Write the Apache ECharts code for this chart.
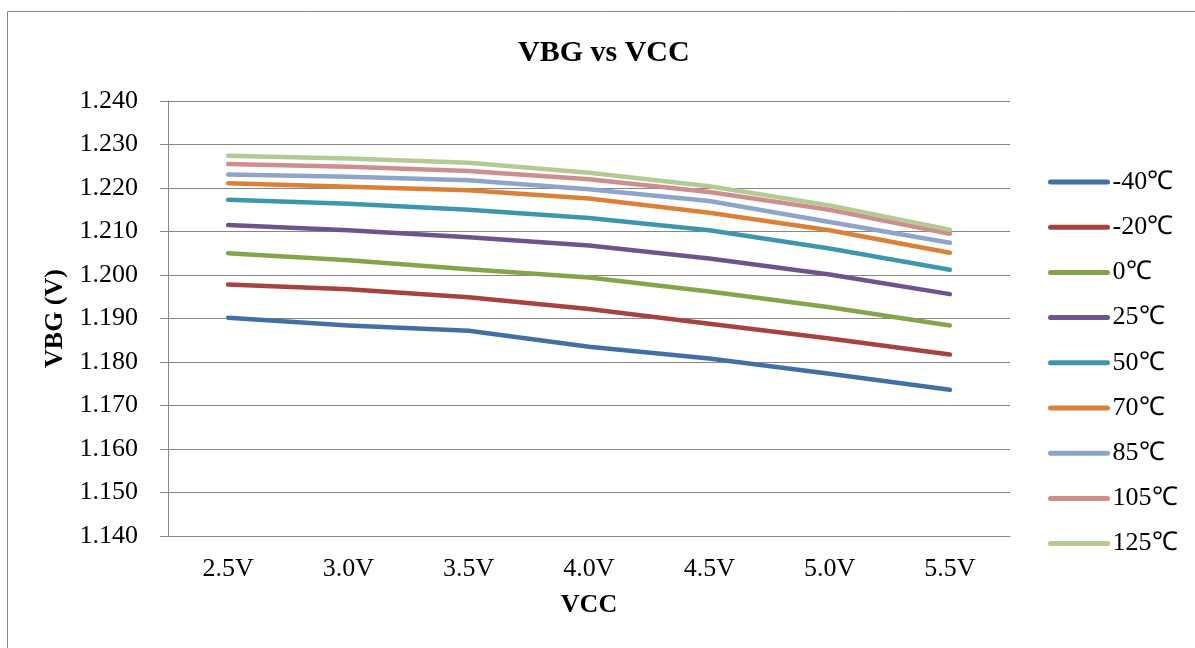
<!DOCTYPE html>
<html>
<head>
<meta charset="utf-8">
<title>VBG vs VCC</title>
<script src="https://cdn.jsdelivr.net/npm/echarts@6/dist/echarts.min.js"></script>
<style>
  html, body { margin: 0; padding: 0; background: #fff; }
  #chart { width: 1195px; height: 648px; }
</style>
</head>
<body>
<div id="chart"></div>
<script>
// supply voltages (x categories)
const vccLabels = ['2.5V', '3.0V', '3.5V', '4.0V', '4.5V', '5.0V', '5.5V'];

// temperature series names
const tempNames = ['-40℃', '-20℃', '0℃', '25℃', '50℃', '70℃', '85℃', '105℃', '125℃'];

// VBG readings per temperature
const vbgM40  = [1.1902, 1.1884, 1.1872, 1.1835, 1.1808, 1.1773, 1.1736];
const vbgM20  = [1.1978, 1.1967, 1.1949, 1.1922, 1.1888, 1.1854, 1.1817];
const vbg0    = [1.2050, 1.2034, 1.2013, 1.1994, 1.1962, 1.1926, 1.1884];
const vbg25   = [1.2115, 1.2103, 1.2087, 1.2068, 1.2038, 1.2001, 1.1956];
const vbg50   = [1.2173, 1.2164, 1.2150, 1.2131, 1.2103, 1.2061, 1.2012];
const vbg70   = [1.2211, 1.2203, 1.2195, 1.2176, 1.2143, 1.2103, 1.2051];
const vbg85   = [1.2231, 1.2226, 1.2218, 1.2197, 1.2170, 1.2122, 1.2074];
const vbg105  = [1.2255, 1.2249, 1.2239, 1.2220, 1.2191, 1.2150, 1.2095];
const vbg125  = [1.2274, 1.2268, 1.2258, 1.2235, 1.2204, 1.2160, 1.2104];

const allSeries = [vbgM40, vbgM20, vbg0, vbg25, vbg50, vbg70, vbg85, vbg105, vbg125];
const colors = ['#416FA6', '#A8423F', '#86A44A', '#6E548D', '#3D96AE',
                '#DA8137', '#8EA5CB', '#CE8E8D', '#B5CA92'];

const font = 'Liberation Serif';
const chart = echarts.init(document.getElementById('chart'));

chart.setOption({
  backgroundColor: '#fff',
  color: colors,
  animation: false,
  title: {
    text: 'VBG vs VCC',
    left: 513,
    top: 33,
    textStyle: { fontFamily: font, fontSize: 30, fontWeight: 'bold', color: '#000' }
  },
  legend: {
    orient: 'vertical',
    left: 1048,
    top: 169,
    padding: 0,
    itemWidth: 57,
    itemHeight: 26,
    itemGap: 19.2,
    data: tempNames,
    itemStyle: { opacity: 0 },
    lineStyle: { width: 5, cap: 'round' },
    textStyle: { fontFamily: font, fontSize: 26, color: '#000' }
  },
  grid: { left: 168, right: 185, top: 101, bottom: 112 },
  xAxis: {
    type: 'category',
    data: vccLabels,
    name: 'VCC',
    nameLocation: 'middle',
    nameGap: 56,
    nameTextStyle: { fontFamily: font, fontSize: 26, fontWeight: 'bold', color: '#000' },
    axisLine: { lineStyle: { color: '#868686', width: 1 } },
    axisTick: { show: false },
    axisLabel: { fontFamily: font, fontSize: 26, color: '#000', margin: 20 }
  },
  yAxis: {
    type: 'value',
    min: 1.14,
    max: 1.24,
    interval: 0.01,
    name: 'VBG (V)',
    nameLocation: 'middle',
    nameGap: 100,
    nameTextStyle: { fontFamily: font, fontSize: 26, fontWeight: 'bold', color: '#000' },
    axisLine: { show: true, lineStyle: { color: '#868686', width: 1 } },
    axisTick: { show: true, length: 8, lineStyle: { color: '#868686' } },
    splitLine: { lineStyle: { color: '#868686', width: 1 } },
    axisLabel: {
      fontFamily: font, fontSize: 26, color: '#000', margin: 30,
      formatter: v => v.toFixed(3)
    }
  },
  graphic: [{
    type: 'rect',
    shape: { x: 7.5, y: 11.5, width: 1300, height: 800 },
    style: { fill: 'none', stroke: '#868686', lineWidth: 1 },
    silent: true
  }],
  series: allSeries.map((vals, i) => ({
    name: tempNames[i],
    type: 'line',
    data: vals,
    symbol: 'none',
    lineStyle: { width: 4.5, cap: 'round', join: 'round' }
  }))
});
</script>
</body>
</html>
